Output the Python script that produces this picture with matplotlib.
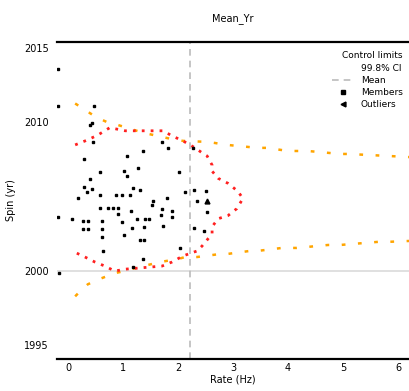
import matplotlib
matplotlib.use("Agg")
import matplotlib.pyplot as plt
from matplotlib.lines import Line2D

# ---- data ----
member_x = [-0.18, -0.18, 0.47, 0.40, 0.44, 0.45, 0.29, 1.36, 1.07, 1.71, 1.82, 2.27,
            0.40, 0.58, 1.02, 1.07, 1.27, 2.02, 0.29, 0.44, 0.18, 0.35, 0.58, 0.87,
            0.98, 1.13, 1.18, 1.31, 1.55, 1.53, 1.80, 2.13, 2.29, 2.35, 2.51, -0.18,
            0.07, 0.27, 0.36, 0.27, 0.36, 0.58, 0.73, 0.82, 0.91, 0.62, 0.62, 0.91,
            1.15, 1.25, 0.98, 1.40, 1.47, 1.16, 1.38, 0.62, 1.02, 1.31, 1.38, 1.73,
            1.69, 1.71, 1.89, 1.89, 2.04, 2.29, 2.47, 2.53, 0.64, 1.36, 1.18, -0.16]
member_y = [2013.57, 2011.12, 2011.12, 2009.83, 2009.97, 2008.67, 2007.52, 2008.06,
            2007.72, 2008.67, 2008.27, 2008.27, 2006.16, 2006.63, 2006.70, 2006.36,
            2006.90, 2006.63, 2005.61, 2005.48, 2004.86, 2005.27, 2005.07, 2005.07,
            2005.07, 2005.07, 2005.54, 2005.41, 2004.66, 2004.39, 2004.86, 2005.27,
            2005.41, 2004.66, 2005.34, 2003.64, 2003.50, 2003.37, 2003.37, 2002.82,
            2002.82, 2004.25, 2004.25, 2004.25, 2004.25, 2003.37, 2002.82, 2003.84,
            2004.05, 2003.50, 2003.30, 2003.50, 2003.50, 2002.89, 2002.96, 2002.28,
            2002.41, 2002.07, 2002.07, 2003.03, 2003.78, 2004.18, 2004.05, 2003.64,
            2001.53, 2002.89, 2002.69, 2003.98, 2001.33, 2000.78, 2000.24, 1999.83]

outlier_x = [2.53]
outlier_y = [2004.66]

red_x = [0.13, 0.36, 0.55, 0.76, 1.04, 1.31, 1.73, 1.89, 2.09, 2.31, 2.44, 2.53,
         2.62, 2.62, 2.73, 2.91, 3.09, 3.18, 3.07, 2.91, 2.73, 2.62, 2.62, 2.44,
         2.35, 2.09, 1.89, 1.71, 1.49, 1.04, 0.85, 0.67, 0.49, 0.27, 0.07]
red_y = [2008.47, 2008.81, 2009.15, 2009.63, 2009.42, 2009.42, 2009.42, 2009.08,
         2008.74, 2008.27, 2007.93, 2007.72, 2007.11, 2006.70, 2006.22, 2005.88,
         2005.34, 2004.86, 2004.18, 2003.71, 2003.50, 2002.96, 2002.48, 2001.67,
         2001.33, 2000.99, 2000.58, 2000.31, 2000.24, 2000.10, 1999.97, 2000.31,
         2000.58, 2000.99, 2001.33]

orange_up_x = [0.13, 0.44, 0.53, 0.73, 0.89, 1.25, 1.45, 1.95, 2.09, 2.55, 2.89,
               3.45, 3.62, 4.00, 4.18, 4.36, 4.95, 5.09, 5.85, 6.2]
orange_up_y = [2011.26, 2010.51, 2010.31, 2009.97, 2009.83, 2009.42, 2009.22,
               2008.81, 2008.74, 2008.67, 2008.47, 2008.27, 2008.27, 2008.06,
               2008.06, 2008.06, 2007.86, 2007.86, 2007.72, 2007.65]
orange_lo_x = [0.13, 0.22, 0.36, 0.56, 0.71, 0.85, 1.02, 1.22, 1.44, 1.67, 2.00,
               2.13, 2.35, 2.76, 2.89, 3.31, 3.45, 3.89, 4.04, 4.16, 4.73, 4.95,
               5.64, 5.82, 6.2]
orange_lo_y = [1998.27, 1998.61, 1999.08, 1999.42, 1999.63, 1999.83, 1999.97,
               2000.17, 2000.37, 2000.58, 2000.78, 2000.92, 2000.92, 2001.12,
               2001.12, 2001.33, 2001.33, 2001.53, 2001.53, 2001.53, 2001.73,
               2001.73, 2001.94, 2001.94, 2002.0]

mean_x = 2.22
ref_y = 2000
x_ticks = [0, 1, 2, 3, 4, 5, 6]
y_ticks = [1995, 2000, 2010, 2015]

# ---- figure ----
fig = plt.figure(figsize=(4.09, 3.91), dpi=100)
ax = fig.add_axes([57/409, 32/391, 352/409, 317/391])

ax.axhline(ref_y, color="#dddddd", lw=1.3, zorder=1)
ax.axvline(mean_x, color="#bbbbbb", lw=1.2, ls=(0, (4, 3)), zorder=1)

ax.plot(red_x, red_y, ls=(0, (1, 2.2)), lw=2.0, color="#ff2020", zorder=3)
ax.plot(orange_up_x, orange_up_y, ls=(0, (1.5, 5)), lw=1.8, color="#ffa500", zorder=2)
ax.plot(orange_lo_x, orange_lo_y, ls=(0, (1.5, 5)), lw=1.8, color="#ffa500", zorder=2)
ax.plot(member_x, member_y, ls="none", marker="s", ms=2.0, color="black", zorder=4)
ax.plot(outlier_x, outlier_y, ls="none", marker="^", ms=3.5, color="black", zorder=4)

ax.set_xlim(-0.2, 6.2)
ax.set_ylim(1994.05, 2015.4)
ax.set_xticks(x_ticks)
ax.set_yticks(y_ticks)
ax.tick_params(length=0, labelsize=7)
ax.tick_params(axis="x", pad=3)
ax.tick_params(axis="y", pad=6)

for s in ["left", "right"]:
    ax.spines[s].set_visible(False)
for s in ["top", "bottom"]:
    ax.spines[s].set_linewidth(1.6)

ax.set_title("Mean_Yr", fontsize=7, pad=15)
ax.set_xlabel("Rate (Hz)", fontsize=7, labelpad=1)
ax.set_ylabel("Spin (yr)", fontsize=7, labelpad=6)

handles = [
    Line2D([], [], ls="none", marker=None),
    Line2D([], [], color="#bbbbbb", ls=(0, (4, 3)), lw=1.2),
    Line2D([], [], ls="none", marker="s", ms=3, color="black"),
    Line2D([], [], ls="none", marker="<", ms=3.5, color="black"),
]
labels = ["99.8% CI", "Mean", "Members", "Outliers"]
leg = ax.legend(handles, labels, title="Control limits", loc="upper right",
                bbox_to_anchor=(1.0, 0.99), frameon=False, fontsize=6.5,
                title_fontsize=6.5, handlelength=2.4, labelspacing=0.35,
                borderpad=0.2)
leg._legend_box.align = "right"

fig.savefig("out.png", dpi=100)
